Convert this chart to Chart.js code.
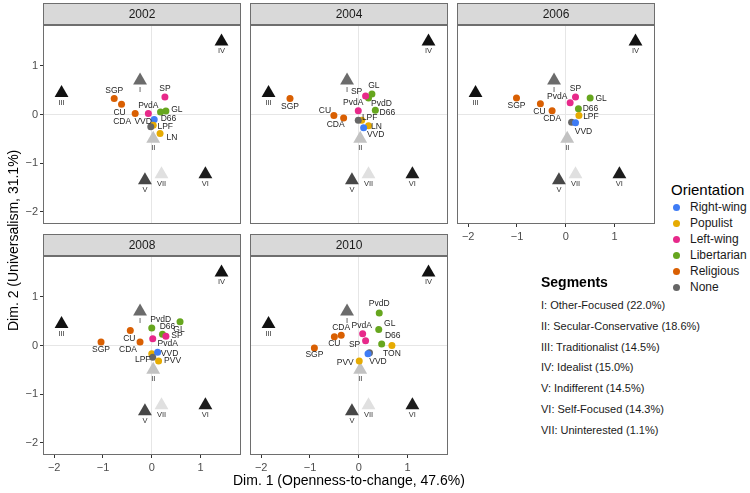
<!DOCTYPE html>
<html>
<head>
<meta charset="utf-8">
<script src="https://cdn.jsdelivr.net/npm/chart.js@4.4.1/dist/chart.umd.min.js"></script>
<style>
  body { margin: 0; background: #fff; font-family: "Liberation Sans", Arial, sans-serif; }
  #wrap { position: relative; width: 750px; height: 493px; overflow: hidden; }
  .panel { position: absolute; }
  .txt { position: absolute; white-space: nowrap; color: #000; line-height: 1; }
  .leg-item { position: absolute; white-space: nowrap; font-size: 12px; color: #1a1a1a; line-height: 1; }
  .dot { position: absolute; width: 7px; height: 7px; border-radius: 50%; }
  .seg-item { position: absolute; white-space: nowrap; font-size: 11px; color: #1a1a1a; line-height: 1; }
</style>
</head>
<body>
<div id="wrap"></div>
<script>
// Facets
const years = ['2002', '2004', '2006', '2008', '2010'];

// Segment centroids (same in every panel)
const segmentIds = ['I', 'II', 'III', 'IV', 'V', 'VI', 'VII'];
const segmentDim1 = [-0.24, 0.03, -1.85, 1.43, -0.14, 1.10, 0.20];
const segmentDim2 = [0.70, -0.50, 0.44, 1.50, -1.35, -1.23, -1.23];
const segmentNames = [
  'I: Other-Focused (22.0%)',
  'II: Secular-Conservative (18.6%)',
  'III: Traditionalist (14.5%)',
  'IV: Idealist (15.0%)',
  'V: Indifferent (14.5%)',
  'VI: Self-Focused (14.3%)',
  'VII: Uninterested (1.1%)'
];

const orientations = ['Right-wing', 'Populist', 'Left-wing', 'Libertarian', 'Religious', 'None'];

// Axis ticks
const tickValues = [-2, -1, 0, 1];

// 2002
const parties2002 = ['SGP', 'CU', 'CDA', 'PvdA', 'SP', 'D66', 'GL', 'VVD', 'LPF', '', 'LN'];
const dim1_2002 = [-0.77, -0.62, -0.34, -0.07, 0.27, 0.18, 0.29, 0.05, 0.03, -0.02, 0.17];
const dim2_2002 = [0.33, 0.21, 0.02, 0.02, 0.36, 0.05, 0.07, -0.10, -0.22, -0.25, -0.39];
const orient2002 = ['Religious', 'Religious', 'Religious', 'Left-wing', 'Left-wing', 'Libertarian', 'Libertarian', 'Right-wing', 'Populist', 'None', 'Populist'];

// 2004
const parties2004 = ['SGP', 'CU', 'CDA', 'PvdA', 'PvdD', 'GL', 'SP', 'D66', 'LPF', '', 'LN', 'VVD'];
const dim1_2004 = [-1.41, -0.51, -0.31, -0.01, 0.20, 0.27, 0.14, 0.34, 0.06, -0.01, 0.20, 0.10];
const dim2_2004 = [0.33, -0.02, -0.07, 0.08, 0.34, 0.42, 0.38, 0.09, -0.12, -0.12, -0.23, -0.27];
const orient2004 = ['Religious', 'Religious', 'Religious', 'Left-wing', 'Libertarian', 'Libertarian', 'Left-wing', 'Libertarian', 'Populist', 'None', 'Populist', 'Right-wing'];

// 2006
const parties2006 = ['SGP', 'CU', 'CDA', 'PvdA', 'SP', 'GL', 'D66', 'LPF', '', 'VVD'];
const dim1_2006 = [-1.01, -0.52, -0.28, 0.09, 0.20, 0.50, 0.26, 0.27, 0.12, 0.20];
const dim2_2006 = [0.34, 0.22, 0.08, 0.24, 0.36, 0.34, 0.12, -0.02, -0.16, -0.17];
const orient2006 = ['Religious', 'Religious', 'Religious', 'Left-wing', 'Left-wing', 'Libertarian', 'Libertarian', 'Populist', 'None', 'Right-wing'];

// 2008
const parties2008 = ['SGP', 'CU', 'CDA', 'PvdD', 'GL', 'D66', 'SP', 'PvdA', 'LPF', '', 'VVD', 'PVV'];
const dim1_2008 = [-1.04, -0.44, -0.24, 0.00, 0.58, 0.22, 0.29, 0.02, 0.00, 0.02, 0.12, 0.14];
const dim2_2008 = [0.07, 0.31, 0.07, 0.36, 0.49, 0.23, 0.19, 0.14, -0.17, -0.24, -0.14, -0.32];
const orient2008 = ['Religious', 'Religious', 'Religious', 'Libertarian', 'Libertarian', 'Libertarian', 'Left-wing', 'Left-wing', 'Populist', 'None', 'Right-wing', 'Populist'];

// 2010
const parties2010 = ['SGP', 'CU', 'CDA', 'PvdA', 'SP', 'PvdD', 'GL', 'D66', 'TON', '', 'VVD', 'PVV'];
const dim1_2010 = [-0.91, -0.50, -0.36, 0.08, 0.14, 0.42, 0.41, 0.47, 0.68, 0.22, 0.19, 0.01];
const dim2_2010 = [-0.05, 0.18, 0.21, 0.24, 0.10, 0.67, 0.33, 0.03, 0.00, -0.15, -0.17, -0.32];
const orient2010 = ['Religious', 'Religious', 'Religious', 'Left-wing', 'Left-wing', 'Libertarian', 'Libertarian', 'Libertarian', 'Populist', 'None', 'Right-wing', 'Populist'];

// ---- styling / layout (not data) ----
const FONT = '"Liberation Sans", Arial, sans-serif';
const orientColors = ['#3f7cf5', '#e6ab02', '#e7298a', '#66a61e', '#d95f02', '#666666'];
const segmentColors = ['#6b6b6b', '#c2c2c2', '#111111', '#111111', '#474747', '#1c1c1c', '#e0e0e0'];

// label offsets in px [dx, dy] from the point (null = no label)
const labelPos = {
  '2002': [[0, -8], [-2, 8], [-13, 8], [0, -8], [0, -8], [8, 7], [11, -1], [-11, 2], [12, 1], null, [12, 4]],
  '2004': [[0, 8], [-9, -5], [-8, 7], [-5, -8], [13, 6], [2, -8], [-9, -4], [12, 3], [8, -3], null, [8, 1], [12, 7]],
  '2006': [[0, 8], [-1, 8], [0, 8], [-13, -6], [0, -8], [11, 1], [12, 0], [12, 1], null, [8, 9]],
  '2008': [[0, 8], [-1, 8], [-12, 8], [9, -8], [-1, 8], [5, -8], [11, -1], [15, 5], [-9, 6], null, [12, 1], [14, 0]],
  '2010': [[0, 7], [0, 7], [0, -8], [-1, -8], [-11, 4], [0, -9], [11, -6], [11, -8], [0, 8], null, [10, 8], [-14, 2]]
};

const panelData = {
  '2002': [parties2002, dim1_2002, dim2_2002, orient2002],
  '2004': [parties2004, dim1_2004, dim2_2004, orient2004],
  '2006': [parties2006, dim1_2006, dim2_2006, orient2006],
  '2008': [parties2008, dim1_2008, dim2_2008, orient2008],
  '2010': [parties2010, dim1_2010, dim2_2010, orient2010]
};

// panel plot-area positions: [left, top, showX, showY]
const panelBoxes = {
  '2002': [43, 25, false, true],
  '2004': [250, 25, false, false],
  '2006': [457, 25, true, false],
  '2008': [43, 256, true, true],
  '2010': [250, 256, true, false]
};

const PW = 198, PH = 199, YAX = 40, XAX = 25, TOP = 25, RIGHT = 8;

const fmtTick = v => (v < 0 ? '\u2212' + Math.abs(v) : String(v));

// strip, border and text labels
const panelDeco = {
  id: 'panelDeco',
  beforeDraw(chart, args, opts) {
    const { ctx, chartArea: ca } = chart;
    ctx.save();
    ctx.fillStyle = '#d9d9d9';
    ctx.fillRect(ca.left, ca.top - 22, ca.width, 22);
    ctx.strokeStyle = '#6e6e6e';
    ctx.lineWidth = 1;
    ctx.strokeRect(ca.left + 0.5, ca.top - 21.5, ca.width - 1, 21);
    ctx.fillStyle = '#1a1a1a';
    ctx.font = '12px ' + FONT;
    ctx.textAlign = 'center';
    ctx.textBaseline = 'middle';
    ctx.fillText(opts.title, (ca.left + ca.right) / 2, ca.top - 10.5);
    ctx.restore();
  },
  afterDatasetsDraw(chart, args, opts) {
    const { ctx, chartArea: ca } = chart;
    const xs = chart.scales.x, ys = chart.scales.y;
    ctx.save();
    ctx.textAlign = 'center';
    ctx.textBaseline = 'middle';
    // segment numerals
    ctx.font = '7.5px ' + FONT;
    ctx.fillStyle = '#333';
    segmentIds.forEach((s, i) => {
      ctx.fillText(s, xs.getPixelForValue(segmentDim1[i]), ys.getPixelForValue(segmentDim2[i]) + 9.5);
    });
    // party labels
    ctx.font = '8.5px ' + FONT;
    ctx.fillStyle = '#262626';
    opts.names.forEach((n, i) => {
      const off = opts.offsets[i];
      if (!n || !off) return;
      ctx.fillText(n, xs.getPixelForValue(opts.d1[i]) + off[0], ys.getPixelForValue(opts.d2[i]) + off[1]);
    });
    // panel border
    ctx.strokeStyle = '#6e6e6e';
    ctx.lineWidth = 1;
    ctx.strokeRect(ca.left + 0.5, ca.top + 0.5, ca.width - 1, ca.height - 1);
    ctx.restore();
  }
};

const wrap = document.getElementById('wrap');

function axisOptions(min, max, show, isX) {
  return {
    type: 'linear',
    min: min,
    max: max,
    afterBuildTicks: s => { s.ticks = tickValues.map(v => ({ value: v })); },
    afterFit: s => { if (isX) s.height = XAX; else s.width = YAX; },
    grid: {
      color: c => (c.tick && c.tick.value === 0 ? '#e6e6e6' : 'rgba(0,0,0,0)'),
      tickColor: show ? '#333' : 'rgba(0,0,0,0)',
      tickLength: 3,
      lineWidth: 1
    },
    border: { display: false },
    ticks: {
      display: show,
      color: '#4d4d4d',
      font: { size: 11, family: FONT },
      padding: isX ? 3 : 2,
      autoSkip: false,
      maxRotation: 0,
      callback: v => fmtTick(v)
    }
  };
}

years.forEach(year => {
  const [names, d1, d2, groups] = panelData[year];
  const [left, top, showX, showY] = panelBoxes[year];
  const div = document.createElement('div');
  div.className = 'panel';
  div.style.left = (left - YAX) + 'px';
  div.style.top = (top - TOP) + 'px';
  const canvas = document.createElement('canvas');
  const w = YAX + PW + RIGHT, h = TOP + PH + XAX;
  canvas.width = w; canvas.height = h;
  canvas.style.width = w + 'px'; canvas.style.height = h + 'px';
  div.appendChild(canvas);
  wrap.appendChild(div);

  new Chart(canvas, {
    type: 'scatter',
    data: {
      datasets: [
        {
          label: 'Parties',
          data: d1.map((x, i) => ({ x: x, y: d2[i] })),
          pointStyle: 'circle',
          pointRadius: 3.5,
          pointBorderWidth: 0,
          pointBackgroundColor: groups.map(g => orientColors[orientations.indexOf(g)]),
          order: 1
        },
        {
          label: 'Segments',
          data: segmentDim1.map((x, i) => ({ x: x, y: segmentDim2[i] })),
          pointStyle: 'triangle',
          pointRadius: 8,
          pointBorderWidth: 0,
          pointBackgroundColor: segmentColors,
          order: 2
        }
      ]
    },
    options: {
      responsive: false,
      animation: false,
      events: [],
      layout: { padding: { top: TOP, right: RIGHT, left: 0, bottom: 0 } },
      plugins: {
        legend: { display: false },
        tooltip: { enabled: false },
        panelDeco: { title: year, names: names, d1: d1, d2: d2, offsets: labelPos[year] }
      },
      scales: {
        x: axisOptions(-2.23, 1.83, showX, true),
        y: axisOptions(-2.25, 1.84, showY, false)
      }
    },
    plugins: [panelDeco]
  });
});

// axis titles
function addText(txt, left, top, css) {
  const d = document.createElement('div');
  d.className = 'txt';
  d.textContent = txt;
  d.style.left = left + 'px';
  d.style.top = top + 'px';
  Object.assign(d.style, css || {});
  wrap.appendChild(d);
  return d;
}

const xt = addText('Dim. 1 (Openness-to-change, 47.6%)', 0, 473, { fontSize: '14px' });
xt.style.left = (349 - xt.offsetWidth / 2) + 'px';

const yt = addText('Dim. 2 (Universalism, 31.1%)', 0, 0, { fontSize: '14px' });
yt.style.transformOrigin = '0 0';
yt.style.transform = 'rotate(-90deg)';
yt.style.left = '6px';
yt.style.top = (240 + yt.offsetWidth / 2) + 'px';

// Orientation legend
addText('Orientation', 671, 182, { fontSize: '15px' });
orientations.forEach((o, i) => {
  const y = 207 + i * 16;
  const dot = document.createElement('div');
  dot.className = 'dot';
  dot.style.background = orientColors[i];
  dot.style.left = '673px';
  dot.style.top = (y - 3.5) + 'px';
  wrap.appendChild(dot);
  const t = document.createElement('div');
  t.className = 'leg-item';
  t.textContent = o;
  t.style.left = '690px';
  t.style.top = (y - 6) + 'px';
  wrap.appendChild(t);
});

// Segments legend
addText('Segments', 541, 275, { fontSize: '14px', fontWeight: 'bold' });
segmentNames.forEach((s, i) => {
  const t = document.createElement('div');
  t.className = 'seg-item';
  t.textContent = s;
  t.style.left = '541px';
  t.style.top = (300 + i * 20.8) + 'px';
  wrap.appendChild(t);
});
</script>
</body>
</html>
